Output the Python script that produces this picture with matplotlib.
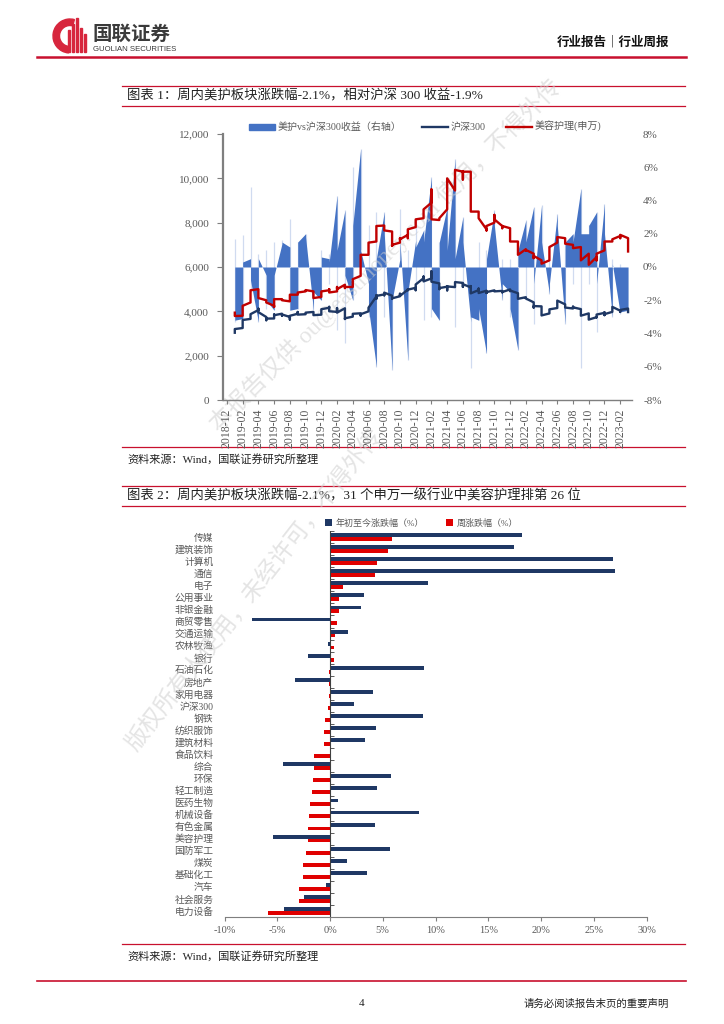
import numpy as np
import pandas as pd
import matplotlib
matplotlib.use('Agg')
import matplotlib.pyplot as plt
from matplotlib.patches import Patch, Wedge, Rectangle
from matplotlib.lines import Line2D
from matplotlib.ticker import FuncFormatter

plt.rcParams['font.family'] = ['Liberation Serif', 'Noto Sans CJK SC']
plt.rcParams['axes.unicode_minus'] = False

# ---------------- chart 1 data: weekly values, grouped by month ----------------
axis_months = ['2018-12', '2019-02', '2019-04', '2019-06', '2019-08', '2019-10', '2019-12',
               '2020-02', '2020-04', '2020-06', '2020-08', '2020-10', '2020-12',
               '2021-02', '2021-04', '2021-06', '2021-08', '2021-10', '2021-12',
               '2022-02', '2022-04', '2022-06', '2022-08', '2022-10', '2022-12', '2023-02']
data_months = pd.period_range('2019-01', '2023-03', freq='M')

hs300 = [
    [3035, 3095, 3168, 3201], [3247, 3366, 3520, 3610], [3658, 3745, 3804, 3872],
    [4058, 4085, 4120, 3963], [3744, 3599, 3648, 3672], [3678, 3826, 3858, 3825],
    [3893, 3808, 3836, 3858], [3747, 3633, 3782, 3799], [3891, 3972, 3935, 3852],
    [3869, 3895, 3941], [3973, 3877, 3950, 3828], [3849, 3902, 3988, 4025, 4096],
    [4160, 4203, 4003], [3976, 4015, 4149, 3940], [4138, 3996, 3653, 3710, 3686],
    [3760, 3796, 3838, 3889], [3912, 3810, 3868], [3999, 4020, 4105, 4163],
    [4670, 4723, 4570, 4695], [4763, 4722, 4760, 4844], [4705, 4627, 4570, 4587],
    [4681, 4793, 4695], [4980, 4954, 4997, 4980], [5060, 4953, 5101, 5211],
    [5495, 5458, 5569, 5351], [5483, 5807, 5597, 5336], [5262, 5000, 5070, 5048],
    [5112, 4947, 5136, 5123], [5093, 5135, 5285, 5320], [5282, 5102, 5155, 5224],
    [5082, 5140, 5106, 4811], [4958, 5025, 4832, 4827], [4930, 4827, 4867],
    [4946, 4947, 4900], [4923, 4889, 4857, 4870], [4989, 4911, 4921, 4940],
    [4818, 4739, 4779, 4564], [4637, 4636, 4581], [4405, 4171, 4249, 4237],
    [4224, 4085, 3930, 3815], [3905, 3926, 4009, 4090], [4149, 4306, 4394, 4485],
    [4315, 4229, 4245, 4170], [4128, 4211, 4181], [4100, 3932, 3856, 3804],
    [3906, 3788, 3627], [3736, 3802, 3732, 3855], [3930, 3955, 3828, 3872],
    [3977, 4111, 4167, 4201], [4029, 3978, 4062], [4126, 3967],
]

beauty = [
    [3940, 3850, 3790], [3800, 4200, 4250], [4400, 4900, 4950], [5000, 4950, 4600],
    [4500, 4450, 4400], [4250, 4200, 4550], [4550, 4500, 4500], [4450, 4700, 4750],
    [4750, 4800, 4850], [4900, 4960], [4900, 4600, 4600], [4650, 4750, 4900],
    [4950, 5000, 4850], [4900, 5100, 5000], [5200, 5050, 5100], [5100, 5250, 5400, 5450],
    [5600, 6000, 6450, 6550], [6550, 6600, 7050, 7100], [7150, 7800, 7850],
    [7870, 7850, 7700, 7650], [7600, 6950, 7000], [7100, 7300, 7250],
    [7450, 7300, 7600, 7700], [7800, 8100, 7900, 8150], [8200, 8350, 8550, 8600],
    [8900, 9500, 8250, 8150], [8120, 8150, 8120, 8200], [8600, 9200, 9800, 10000],
    [9450, 9900, 10350, 10380], [10300, 10320, 9950, 10300], [10300, 10250, 9000, 8500],
    [8500, 8450, 8200], [7700, 7650, 7800, 7850], [8000, 8350, 8150], [7850, 7750, 7850],
    [7750, 7700, 7300, 7150], [7150, 6800, 6600, 6550], [6800, 6750, 6770],
    [6600, 6450, 6400, 6500], [6300, 6200, 6150], [6300, 6600, 6900], [7100, 7250, 7350],
    [7300, 7250, 7050], [7000, 6900, 6850], [6900, 6700, 6300], [6600, 6200, 6100],
    [6450, 6300, 6600], [6750, 7100, 7150], [7150, 7250, 7250], [7400, 7350, 7300, 7450],
    [7300, 7200, 6700],
]

# weekly excess return of beauty care vs CSI 300, %
excess = [
    [1.7, -2.0, -3.3, -3.2], [-3.1, 1.9, -0.5, 0.3], [0.5, 4.8, -1.5, -0.8], [-3.3, 0.5, 0.8, 0.5],
    [-0.5, 1.0, -2.5, -2.0], [-2.6, 1.5, 0.2, -0.5], [1.4, 0.5, 1.6, 1.5], [1.2, 2.9, -1.0, -2.6],
    [-2.5, 0.5, 1.0, 1.5], [2.0, 0.8, 1.8], [-2.6, -1.0, -2.2, -1.5], [-2.0, 1.0, 0.5, 0.6],
    [0.5, 0.8, -1.0, 0.3], [4.3, -3.8, 2.0, 1.0], [3.4, -4.6, 0.5, -0.5], [-2.0, 6.0, 1.5, 2.5],
    [7.1, 2.0, 3.0, 1.0], [-1.0, 2.5, -3.0, -2.5], [-6.0, 3.3, -1.0, 0.5], [3.3, -3.0, 2.5, 2.0],
    [-6.2, -1.0, -3.0, -2.0], [0.5, 3.5, 1.6, 1.5], [-5.6, 1.0, -2.0, -1.5], [1.6, 2.8, -1.0, 1.2],
    [2.2, -3.2, 1.0, 1.5], [5.4, 1.0, -3.0, -2.5], [-3.2, 1.0, -1.5, 1.5], [3.6, 1.0, 2.0, 1.0],
    [6.5, -3.6, 1.5, 0.5], [3.0, -1.0, 2.0, 1.5], [-3.3, -6.1, -2.0, -3.0], [-3.2, 1.5, -2.0, -2.5],
    [-5.2, 1.0, 0.5], [3.4, 1.0, 2.5], [-2.0, 0.5, -1.5, -1.0], [-1.5, 0.5, -3.0, -2.5],
    [-5.0, 1.0, -2.0, 1.0], [2.8, -2.0, 1.5], [3.6, -3.4, 0.5, -1.0], [3.7, 1.0, 2.5, 1.5],
    [-1.6, 1.0, 0.5, -1.0], [3.2, 1.5, 2.0, 2.5], [-3.4, 1.0, -1.5, 1.5], [2.0, 0.5, -1.0, 1.5],
    [4.7, -6.1, 1.0, 2.0], [2.0, -1.0, 0.5, 2.5], [3.3, -3.9, 1.0, -1.0], [3.8, 0.5, 1.5, 2.0],
    [-3.0, 0.5, -1.5, 0.2], [-2.8, 0.2, -2.5, -2.7], [-2.6, -2.6],
]

# ---------------- chart 2 data ----------------
industries = ['传媒', '建筑装饰', '计算机', '通信', '电子', '公用事业', '非银金融', '商贸零售',
              '交通运输', '农林牧渔', '银行', '石油石化', '房地产', '家用电器', '沪深300', '钢铁',
              '纺织服饰', '建筑材料', '食品饮料', '综合', '环保', '轻工制造', '医药生物', '机械设备',
              '有色金属', '美容护理', '国防军工', '煤炭', '基础化工', '汽车', '社会服务', '电力设备']
ytd_chg = [18.2, 17.4, 26.8, 27.0, 9.3, 3.2, 2.9, -7.4, 1.7, -0.2, -2.1, 8.9, -3.3, 4.1, 2.3, 8.8,
           4.4, 3.3, 0.0, -4.5, 5.8, 4.5, 0.8, 8.4, 4.3, -5.4, 5.7, 1.6, 3.5, -0.4, -2.5, -4.4]
week_chg = [5.9, 5.5, 4.5, 4.3, 1.2, 0.9, 0.9, 0.7, 0.5, 0.4, 0.35, -0.05, -0.06, -0.1, -0.2, -0.5,
            -0.6, -0.6, -1.5, -1.5, -1.6, -1.7, -1.9, -2.0, -2.1, -2.1, -2.3, -2.6, -2.6, -2.9, -2.9, -5.9]

BLUE = '#4472C4'
NAVY = '#1F3864'
RED = '#C00000'
BAR_RED = '#E00000'
GRAY = '#595959'
LINE_RED = '#C8102E'

W, H = 724, 1024
fig = plt.figure(figsize=(W / 100, H / 100), dpi=100)


def box(l, t, r, b):
    return [l / W, 1 - b / H, (r - l) / W, (b - t) / H]


def flat(groups):
    x = np.concatenate([[i + 1] * len(g) for i, g in enumerate(groups)])
    y = np.concatenate([np.asarray(g, float) for g in groups])
    return x, y


# ---------------- chart 1 ----------------
ax = fig.add_axes(box(223, 134, 632, 400))
ax2 = ax.twinx()
xe, ye = flat(excess)
ax2.fill_between(xe, ye, 0, color=BLUE, lw=0)
for i, g in enumerate(excess):
    ax2.vlines(i + 1, min(g), max(g), color=BLUE, alpha=0.25, lw=0.9)
ax2.set_ylim(-8, 8)
ax2.set_yticks(range(-8, 9, 2))
ax2.yaxis.set_major_formatter(FuncFormatter(lambda v, p: f'{v:.0f}%'))
ax2.tick_params(axis='y', length=0, pad=8, labelsize=8, labelcolor=GRAY)
for s in ax2.spines.values():
    s.set_visible(False)

xh, yh = flat(hs300)
ax.plot(xh, yh, color=NAVY, lw=1.7)
xb, yb = flat(beauty)
ax.plot(xb, yb, color=RED, lw=1.7)
ax.set_zorder(ax2.get_zorder() + 1)
ax.patch.set_visible(False)
ax.set_xlim(-0.5, len(data_months) + 0.5)
ax.set_ylim(0, 12000)
ax.set_yticks(range(0, 12001, 2000))
ax.yaxis.set_major_formatter(FuncFormatter(lambda v, p: f'{v:,.0f}'))
ax.set_xticks(range(0, 2 * len(axis_months), 2))
ax.set_xticklabels(axis_months, rotation=90)
ax.tick_params(axis='y', length=4, color='#7f7f7f', labelsize=8, labelcolor=GRAY, pad=6)
ax.tick_params(axis='x', length=3, color='#7f7f7f', labelsize=8.5, labelcolor=GRAY, pad=3)
ax.spines['top'].set_visible(False)
ax.spines['right'].set_visible(False)
ax.spines['left'].set_color('#7f7f7f')
ax.spines['left'].set_linewidth(1.6)
ax.spines['bottom'].set_color('#7f7f7f')
ax.spines['bottom'].set_linewidth(1.0)

handles = [Patch(color=BLUE), Line2D([], [], color=NAVY, lw=1.7), Line2D([], [], color=RED, lw=1.7)]
fig.legend(handles, ['美护vs沪深300收益（右轴）', '沪深300', '美容护理(申万)'],
           loc='center', bbox_to_anchor=(425 / W, 1 - 127 / H), ncol=3, frameon=False,
           fontsize=7.2, labelcolor=GRAY, handlelength=2.6, handleheight=0.6,
           columnspacing=2.0, handletextpad=0.3)

# ---------------- chart 2 ----------------
ax3 = fig.add_axes(box(224.5, 531, 646.5, 917))
yy = np.arange(len(industries))
ax3.barh(yy - 0.16, ytd_chg, height=0.32, color=NAVY, label='年初至今涨跌幅（%）')
ax3.barh(yy + 0.16, week_chg, height=0.32, color=BAR_RED, label='周涨跌幅（%）')
ax3.set_ylim(len(industries) - 0.5, -0.5)
ax3.set_xlim(-10, 30)
ax3.set_xticks(range(-10, 31, 5))
ax3.xaxis.set_major_formatter(FuncFormatter(lambda v, p: f'{v:.0f}%'))
ax3.set_yticks(yy)
ax3.set_yticklabels(industries)
ax3.tick_params(axis='y', length=0, pad=8, labelsize=7, labelcolor=GRAY)
ax3.tick_params(axis='x', length=3, color='#7f7f7f', labelsize=7.5, labelcolor=GRAY)
for s in ['top', 'right', 'left']:
    ax3.spines[s].set_visible(False)
ax3.spines['bottom'].set_color('#7f7f7f')
ax3.axvline(0, color='#404040', lw=0.8)
ax3.plot(np.zeros(len(industries) + 1), np.arange(len(industries) + 1) - 0.5, ls='none',
         marker=1, ms=3, mew=0.6, color='#404040')
ax3.legend(loc='center', bbox_to_anchor=(0.467, 1 + 8 / 386), ncol=2, frameon=False, fontsize=6.5,
           labelcolor=GRAY, handlelength=0.7, handleheight=0.7, handletextpad=0.4, columnspacing=2.5)

# ---------------- page decoration (pixel coordinates) ----------------
ov = fig.add_axes([0, 0, 1, 1])
ov.set_xlim(0, W)
ov.set_ylim(H, 0)
ov.axis('off')
ov.patch.set_visible(False)

# logo
ov.add_patch(Wedge((70, 36), 17, 95, 285, width=6.5, color='#D7263D'))
for bx, top in [(68, 30), (72, 24), (76, 18), (80, 28), (84, 34)]:
    ov.add_patch(Rectangle((bx, top), 2.4, 52 - top, color='#D7263D'))
ov.text(93, 34, '国联证券', fontsize=14, fontweight='bold', color='#3a3a3a', va='center',
        family=['Noto Sans CJK SC'])
ov.text(93, 49.5, 'GUOLIAN SECURITIES', fontsize=5.6, color='#3a3a3a', va='center',
        family=['Liberation Sans'])
ov.text(669, 42, '行业报告｜行业周报', fontsize=9, fontweight='bold', color='#111111',
        ha='right', va='center', family=['Noto Sans CJK SC'])
ov.plot([37, 686], [57, 57], color=LINE_RED, lw=1.8)

# chart titles and sources
for t_line, b_line, title in [(86, 106, '图表 1：周内美护板块涨跌幅-2.1%，相对沪深 300 收益-1.9%'),
                              (486, 506, '图表 2：周内美护板块涨跌幅-2.1%，31 个申万一级行业中美容护理排第 26 位')]:
    ov.plot([122, 685], [t_line, t_line], color=LINE_RED, lw=0.9)
    ov.plot([122, 685], [b_line, b_line], color=LINE_RED, lw=0.9)
    ov.text(127, (t_line + b_line) / 2, title, fontsize=9.6, color='#222222', va='center')

for s_line in [447, 944]:
    ov.plot([122, 685], [s_line, s_line], color=LINE_RED, lw=0.9)
    ov.text(127, s_line + 12, '资料来源：Wind，国联证券研究所整理', fontsize=8, color='#222222',
            va='center')

ov.plot([37, 686], [981, 981], color=LINE_RED, lw=1.2)
ov.text(362, 1004, '4', fontsize=8, color='#222222', ha='center', va='center')
ov.text(669, 1004, '请务必阅读报告末页的重要声明', fontsize=7.5, color='#222222', ha='right',
        va='center')

# watermark
ov.text(385, 255, '本报告仅供 ou@eastmoney.com 使用，不得外传', fontsize=17,
        color='#cfcfcf', alpha=0.55, rotation=45, ha='center', va='center')
ov.text(255, 590, '版权所有人使用，未经许可，不得外传', fontsize=17,
        color='#cfcfcf', alpha=0.55, rotation=52, ha='center', va='center')

fig.savefig('out.png', dpi=100)
